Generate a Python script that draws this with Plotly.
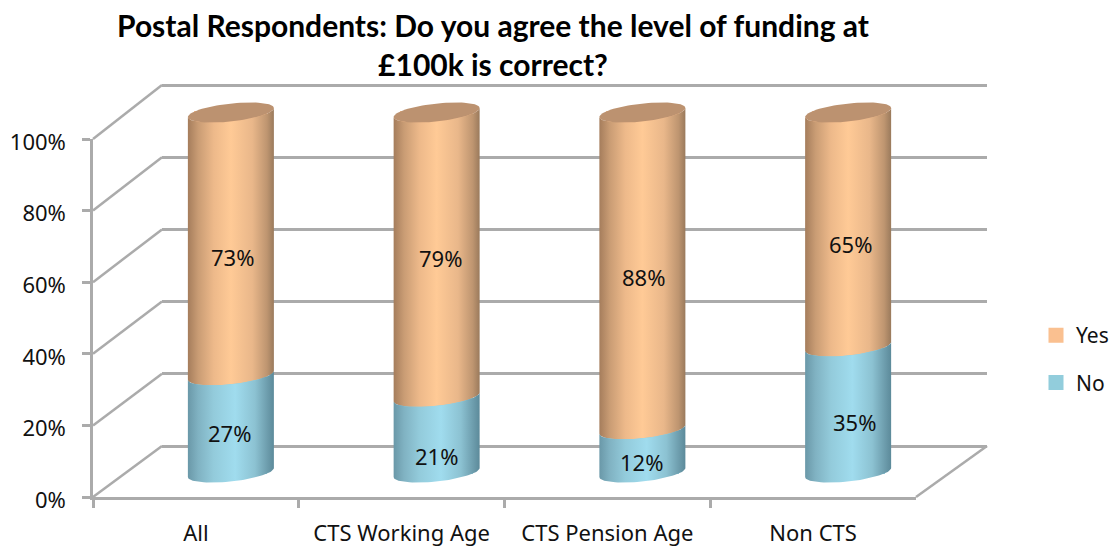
import numpy as np
import plotly.graph_objects as go

# ---- data ----
categories = ["All", "CTS Working Age", "CTS Pension Age", "Non CTS"]
no_values = [27, 21, 12, 35]
yes_values = [73, 79, 88, 65]
y_ticks = [0, 20, 40, 60, 80, 100]
y_tick_labels = ["0%", "20%", "40%", "60%", "80%", "100%"]
title_text = "Postal Respondents: Do you agree the level of funding at<br>£100k is correct?"

# ---- styling / geometry (pixels) ----
W, H = 1116, 550
FONT = "Noto Sans"
TITLE_FONT = "Lato"
GRID = "#ABABAB"
GRID_W = 2.5
TXT = "#111111"
FRONT = dict(l=93, r=916, b=497, t=139)
BACK = dict(l=162, r=987, b=446, t=85)
BARS = dict(l=128, r=951, b=472.5, t=112.5)
RX, RY, SHEAR = 43.0, 9.0, 4.5      # ellipse semi axes / tilt, pixels
BAR_PX = 70.0
ORANGE = [[0, "#A57D5C"], [0.12, "#C99C74"], [0.3, "#EDB98A"], [0.5, "#FFCA96"],
          [0.75, "#E9B78A"], [0.92, "#BE9570"], [1, "#9A7A5C"]]
BLUE = [[0, "#6A98A8"], [0.12, "#80B2C2"], [0.3, "#93CBDB"], [0.55, "#A0DCEE"],
        [0.78, "#8CC2D2"], [0.92, "#6E9EAE"], [1, "#5C8A9A"]]
CAP = "#BC9270"
LEG_YES, LEG_NO = "#FAC090", "#92CDDC"
# label nudges in pixels, from the reference
NUDGE_NO = [(-1, 9), (0, 21), (-1, 11), (6, 12)]
NUDGE_YES = [(2, 13), (4, 3), (1, 6), (2, 15)]
WALL_PAD = 2.0  # value units of headroom so the 0% and 100% wall gridlines are kept
BAR_PAD = 6.0   # value units of headroom so the cylinder ends are not clipped


def dom_x(g):
    return [g["l"] / W, g["r"] / W]


def dom_y(g, pad=0.0):
    p = (g["b"] - g["t"]) * pad / 100.0
    return [1 - (g["b"] + p) / H, 1 - (g["t"] - p) / H]


cat_px = (BARS["r"] - BARS["l"]) / len(categories)
val_px = (BARS["b"] - BARS["t"]) / 100.0
rx, ry, sh = RX / cat_px, RY / val_px, SHEAR / val_px
theta = np.linspace(np.pi, 2 * np.pi, 40)


def front_arc(i, v):
    return i + rx * np.cos(theta), v + ry * np.sin(theta) + sh * np.cos(theta)


def segment(i, lo, hi, colorscale):
    x0, y0 = front_arc(i, lo)
    x1, y1 = front_arc(i, hi)
    return go.Scatter(
        x=np.r_[x0, x1[::-1], x0[0]], y=np.r_[y0, y1[::-1], y0[0]],
        xaxis="x3", yaxis="y3", mode="lines", line=dict(width=0),
        fill="toself", fillgradient=dict(type="horizontal", colorscale=colorscale),
        showlegend=False, hoverinfo="skip")


def cap(i, v):
    t = np.linspace(0, 2 * np.pi, 80)
    return go.Scatter(
        x=i + rx * np.cos(t), y=v + ry * np.sin(t) + sh * np.cos(t),
        xaxis="x3", yaxis="y3", mode="lines", line=dict(width=0),
        fill="toself", fillcolor=CAP, showlegend=False, hoverinfo="skip")


fig = go.Figure()
idx = list(range(len(categories)))

# back wall (gridlines) and front axes
fig.add_trace(go.Scatter(x=[0, 1], y=[0, 100], xaxis="x", yaxis="y", mode="lines",
                         opacity=0, showlegend=False, hoverinfo="skip"))
fig.add_trace(go.Scatter(x=categories, y=no_values, xaxis="x2", yaxis="y2", mode="lines",
                         opacity=0, showlegend=False, hoverinfo="skip"))

# stacked bars
bar_w = BAR_PX / cat_px
fig.add_trace(go.Bar(x=idx, y=no_values, name="No", width=bar_w, xaxis="x3", yaxis="y3",
                     marker=dict(color=LEG_NO, line=dict(color=LEG_NO, width=3)),
                     legendgroup="no", legendrank=2))
fig.add_trace(go.Bar(x=idx, y=yes_values, name="Yes", width=bar_w, xaxis="x3", yaxis="y3",
                     marker=dict(color=LEG_YES, line=dict(color=LEG_YES, width=3)),
                     legendgroup="yes", legendrank=1))

# cylinder skin over the bars
for i, (n, y) in enumerate(zip(no_values, yes_values)):
    fig.add_trace(segment(i, n, n + y, ORANGE))
    fig.add_trace(segment(i, 0, n, BLUE))
    fig.add_trace(cap(i, n + y))

# perspective lines
shapes = []


def pline(x0, y0, x1, y1):
    shapes.append(dict(type="line", xref="paper", yref="paper", layer="below",
                       x0=x0 / W, x1=x1 / W, y0=1 - y0 / H, y1=1 - y1 / H,
                       line=dict(color=GRID, width=GRID_W)))


for v in y_ticks:
    f = FRONT["b"] + (FRONT["t"] - FRONT["b"]) * v / 100
    b = BACK["b"] + (BACK["t"] - BACK["b"]) * v / 100
    pline(FRONT["l"], f, BACK["l"], b)
pline(FRONT["r"], FRONT["b"], BACK["r"], BACK["b"])

annotations = []
for i, (n, y) in enumerate(zip(no_values, yes_values)):
    for v, mid, (dx, dy) in ((n, n / 2, NUDGE_NO[i]), (y, n + y / 2, NUDGE_YES[i])):
        annotations.append(dict(x=i, y=mid, xref="x3", yref="y3", text=f"{v}%", showarrow=False,
                                xshift=dx, yshift=-dy, font=dict(family=FONT, size=22, color=TXT)))

axis_off = dict(showticklabels=False, ticks="", showline=False, zeroline=False, showgrid=False,
                automargin=False)
fig.update_layout(
    template="none",
    width=W, height=H, margin=dict(l=0, r=0, t=0, b=0, autoexpand=False), autosize=False,
    paper_bgcolor="white", plot_bgcolor="rgba(0,0,0,0)",
    barmode="stack", bargap=0.5,
    font=dict(family=FONT, size=22, color=TXT),
    title=dict(text="<b>" + title_text.replace("<br>", "</b><br><b>") + "</b>",
               x=493 / W, xanchor="center", y=1 - 37 / H, yanchor="top", automargin=False,
               font=dict(family=TITLE_FONT, size=30, color="#000000")),
    xaxis=dict(domain=dom_x(BACK), range=[0, 1], anchor="y", **axis_off),
    yaxis=dict(domain=dom_y(BACK, WALL_PAD), range=[-WALL_PAD, 100 + WALL_PAD], anchor="x",
               tickvals=y_ticks, showticklabels=False, ticks="", showline=False, zeroline=False,
               showgrid=True, gridcolor=GRID, gridwidth=GRID_W, automargin=False),
    xaxis2=dict(domain=dom_x(FRONT), anchor="y2", type="category", categoryorder="array",
                categoryarray=categories, range=[-0.5, 3.5], tickson="boundaries", ticks="outside",
                ticklen=8, tickwidth=GRID_W, tickcolor=GRID, showline=True, linecolor=GRID,
                linewidth=GRID_W, showgrid=False, zeroline=False, ticklabelstandoff=15,
                automargin=False, tickfont=dict(family=FONT, size=22, color=TXT)),
    yaxis2=dict(domain=dom_y(FRONT), anchor="x2", range=[0, 100], tickvals=y_ticks,
                ticktext=y_tick_labels, ticks="outside", ticklen=8, tickwidth=GRID_W, tickcolor=GRID,
                showline=True, linecolor=GRID, linewidth=GRID_W, showgrid=False, zeroline=False,
                ticklabelstandoff=12, ticklabelshift=3, automargin=False,
                tickfont=dict(family=FONT, size=22, color=TXT)),
    xaxis3=dict(domain=dom_x(BARS), range=[-0.5, 3.5], anchor="y3", **axis_off),
    yaxis3=dict(domain=dom_y(BARS, BAR_PAD), range=[-BAR_PAD, 100 + BAR_PAD], anchor="x3", **axis_off),
    legend=dict(x=1036 / W, xanchor="left", y=1 - 315 / H, yanchor="top", tracegroupgap=17,
                traceorder="grouped", bgcolor="rgba(0,0,0,0)",
                font=dict(family=FONT, size=21, color=TXT)),
    shapes=shapes, annotations=annotations,
)

fig.write_html("out.html", config=dict(displayModeBar=False),
               post_script="document.body.style.margin='0';")
